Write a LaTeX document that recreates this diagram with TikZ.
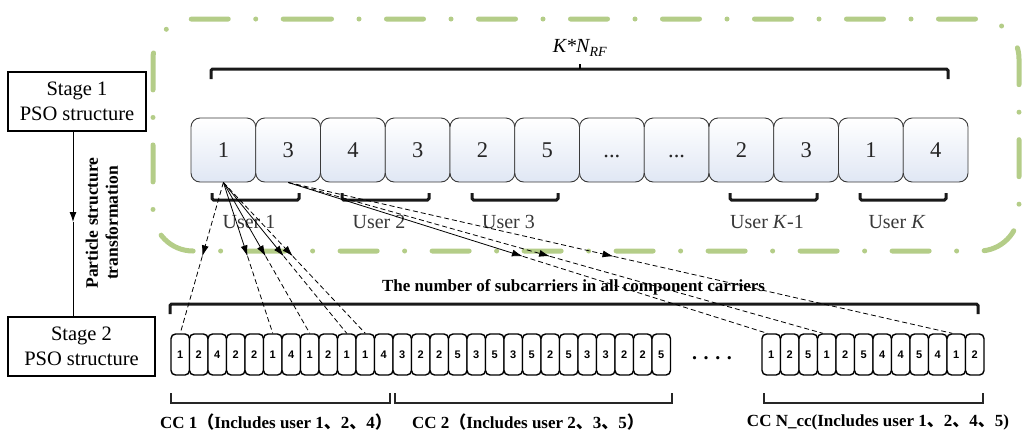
\documentclass[tikz,border=0pt]{standalone}
\usepackage{fontspec}
\usepackage{graphicx}
\setmainfont{Liberation Serif}
\newfontfamily\cellfont{Liberation Sans}
\newfontfamily\cjk{Noto Sans CJK SC}
\usetikzlibrary{arrows.meta,calc}
\definecolor{frameGreen}{RGB}{180,205,136}
\definecolor{cellBlue}{RGB}{224,231,244}
\definecolor{inkGrey}{RGB}{58,58,58}
\newcommand{\zh}[1]{{\cjk #1}}
\newcommand{\dts}{...}
% arrow from a source anchor to a target anchor, tip half way, dashed tail
\newcommand{\linkarrow}[3]{%
  \coordinate (lkmid) at ($(#1)!0.49!(#2)$);
  \draw[#3,-{Latex[length=11pt,width=7pt]}] (#1) -- (lkmid);
  \draw[dashline] (lkmid) -- (#2);}
\begin{document}
\begin{tikzpicture}[x=1pt,y=-1pt,
  stagebox/.style={draw=black,line width=1.6pt,minimum width=#1,minimum height=59pt,
    inner sep=0pt,align=center,font=\fontsize{20.5}{25}\selectfont},
  topcell/.style={draw=inkGrey,line width=0.9pt,rounded corners=9pt,top color=white,
    bottom color=cellBlue,minimum width=64.75pt,minimum height=64pt,inner sep=0pt,
    text height=15.5pt,text depth=0pt,
    font=\fontsize{22.5}{22.5}\selectfont,text=black!85},
  subcell/.style={draw=black,line width=1.4pt,rounded corners=4.5pt,fill=white,
    minimum width=18.5pt,minimum height=41pt,inner sep=0pt,
    font=\cellfont\bfseries\fontsize{11}{11}\selectfont},
  userlbl/.style={font=\fontsize{20}{24}\selectfont,text=black!78,inner sep=0pt},
  boldlbl/.style={font=\bfseries\fontsize{17}{20}\selectfont,inner sep=0pt},
  thickbracket/.style={line width=3pt,draw=black!90,rounded corners=1.5pt},
  thinbracket/.style={line width=1.5pt,draw=black!85},
  dashline/.style={line width=0.8pt,dash pattern=on 5pt off 3pt},
  solidline/.style={line width=0.8pt}]
\useasboundingbox (0,0) rectangle (1023,432);

% dash-dotted frame round the first stage
\draw[frameGreen,line width=5pt,line cap=round,rounded corners=40pt,
  dash pattern=on 37pt off 27.5pt on 0pt off 27.5pt]
  (254.5,19) -- (1019,19) -- (1019,251) -- (153,251) -- (153,19) -- cycle;

% stage boxes and the transformation arrow
\node[stagebox=138pt] (s1) at (77,101.5) {Stage 1\\PSO structure};
\node[stagebox=147pt] (s2) at (81.5,346.5) {Stage 2\\PSO structure};
\coordinate (ax) at (73,0);
\coordinate (amid) at (73,222);
\draw[line width=1pt,-{Latex[length=10pt,width=7pt]}] (s1.south -| ax) -- (amid);
\draw[line width=1pt] (amid) -- (s2.north -| ax);
\node[boldlbl,font=\bfseries\fontsize{17.5}{20}\selectfont,rotate=90,align=center]
  (trf) at (102,223) {Particle structure\\transformation};

% stage 1 particle
\foreach \v [count=\i] in {1,3,4,3,2,5,\dts,\dts,2,3,1,4}
  \node[topcell] (t\i) at ({191+64.75*(\i-0.5)},150) {\v};

\draw[thickbracket] (211,79) -- (211,69) -- (948,69) -- (948,79);
\draw[line width=2.5pt] (580,69) -- (580,64);
\node[font=\fontsize{20}{24}\selectfont\itshape,inner sep=0pt] (knrf) at (580,48) {K*N\textsubscript{RF}};

% user groups
\draw[thickbracket] (212,193) -- (212,200) -- (299,200) -- (299,193);
\draw[thickbracket] (342,193) -- (342,200) -- (429,200) -- (429,193);
\draw[thickbracket] (472,193) -- (472,200) -- (558,200) -- (558,193);
\draw[thickbracket] (730,193) -- (730,200) -- (817,200) -- (817,193);
\draw[thickbracket] (860,193) -- (860,200) -- (946,200) -- (946,193);
\node[userlbl] (u1) at (249,222) {User 1};
\node[userlbl] (u2) at (379,222) {User 2};
\node[userlbl] (u3) at (508.5,222) {User 3};
\node[userlbl] (uk1) at (767,222) {User \textit{K}-1};
\node[userlbl] (uk) at (897,222) {User \textit{K}};

% stage 2 particle
\node[boldlbl] (nsub) at (573.5,287)
  {The number of subcarriers in all component carriers};
\draw[thickbracket] (170,314) -- (170,304) -- (978,304) -- (978,314);

\foreach \v [count=\i] in {1,2,4,2,2,1,4,1,2,1,1,4}
  \node[subcell] (a\i) at ({171+18.5*(\i-0.5)},354.5) {\v};
\foreach \v [count=\i] in {3,2,2,5,3,5,3,5,2,5,3,3,2,2,5}
  \node[subcell] (b\i) at ({393+18.5*(\i-0.5)},354.5) {\v};
\foreach \v [count=\i] in {1,2,5,1,2,5,4,4,5,4,1,2}
  \node[subcell] (c\i) at ({762+18.5*(\i-0.5)},354.5) {\v};
\node[font=\bfseries\fontsize{20}{20}\selectfont,anchor=base,inner sep=0pt] (gap) at (712,359) {. . . .};

% component carrier groups
\draw[thinbracket] (171,393) -- (171,403) -- (390,403) -- (390,393);
\draw[thinbracket] (395,393) -- (395,403) -- (672,403) -- (672,393);
\draw[thinbracket] (764,393) -- (764,403) -- (983,403) -- (983,393);
\node[boldlbl] (cc1) at (276,422) {CC 1\zh{（}Includes user 1\zh{、}2\zh{、}4\zh{）}};
\node[boldlbl] (cc2) at (528,422) {CC 2\zh{（}Includes user 2\zh{、}3\zh{、}5\zh{）}};
\node[boldlbl] (ccn) at (878,422) {CC N\_cc(Includes user 1\zh{、}2\zh{、}4\zh{、}5)};

% mapping of genes to subcarriers
\coordinate (ec1) at ($(c1.north west)!0.3!(c1.north east)$);
\coordinate (ec4) at ($(c4.north west)!0.3!(c4.north east)$);
\coordinate (ec11) at ($(c11.north west)!0.3!(c11.north east)$);
\linkarrow{t1.south}{a1.north}{dashline}
\linkarrow{t1.south}{a6.north}{solidline}
\linkarrow{t1.south}{a8.north}{solidline}
\linkarrow{t1.south}{a10.north}{solidline}
\linkarrow{t1.south}{a11.north}{dashline}
\linkarrow{t2.south}{ec1}{solidline}
\linkarrow{t2.south}{ec4}{dashline}
\linkarrow{t2.south}{ec11}{dashline}
\end{tikzpicture}
\end{document}
